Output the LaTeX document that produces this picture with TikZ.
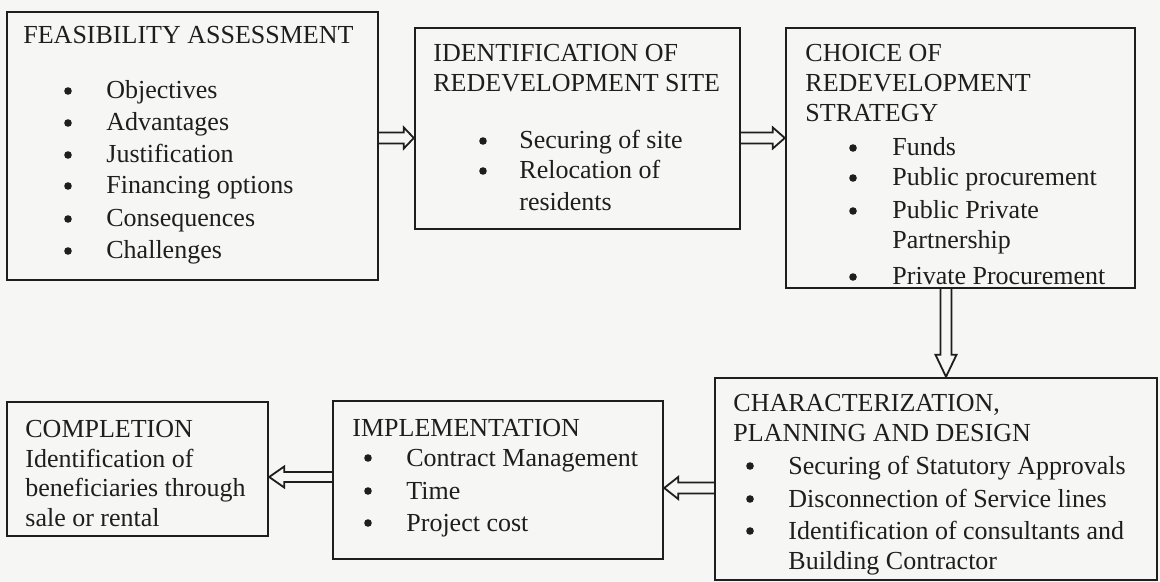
\documentclass[tikz,border=0pt]{standalone}
\usepackage{fontspec}
\setmainfont{Liberation Serif}
\usetikzlibrary{fit,calc}
\definecolor{ink}{HTML}{1E1E1E}
\definecolor{paper}{HTML}{F6F6F4}
\newcommand\tline[4]{\node[txt] (#1) at (#2,#3) {#4};}
\newcommand\bitem[5]{\node[bul] (#1b) at (#2,#4-8) {}; \node[txt] (#1) at (#3,#4) {#5};}
\tikzset{
  txt/.style={anchor=base west, inner sep=0pt, text=ink, font=\fontsize{13}{16}\selectfont},
  bul/.style={circle, fill=ink, inner sep=0pt, minimum size=3.8pt},
  box/.style={draw=ink, line width=1.2pt, inner sep=0pt},
  arr/.style={draw=ink, line width=0.9pt, line join=miter, fill=paper}
}
\begin{document}
\begin{tikzpicture}[x=0.5pt,y=-0.5pt]
\fill[paper] (0,0) rectangle (1160,582);
\useasboundingbox (0,0) rectangle (1160,582);
% Box 1
\tline{t11}{23}{44}{FEASIBILITY ASSESSMENT}
\bitem{t12}{68}{106}{99}{Objectives}
\bitem{t13}{68}{106}{131}{Advantages}
\bitem{t14}{68}{106}{163}{Justification}
\bitem{t15}{68}{106}{194}{Financing options}
\bitem{t16}{68}{106}{227}{Consequences}
\bitem{t17}{68}{106}{259}{Challenges}
% Box 2
\tline{t21}{433}{62}{IDENTIFICATION OF}
\tline{t22}{433}{92}{REDEVELOPMENT SITE}
\bitem{t23}{483}{519}{149}{Securing of site}
\bitem{t24}{483}{519}{179}{Relocation of}
\tline{t25}{519}{211}{residents}
% Box 3
\tline{t31}{805}{62}{CHOICE OF}
\tline{t32}{805}{92}{REDEVELOPMENT}
\tline{t33}{805}{122}{STRATEGY}
\bitem{t34}{853}{892}{156}{Funds}
\bitem{t35}{853}{892}{186}{Public procurement}
\bitem{t36}{853}{892}{219}{Public Private}
\tline{t37}{892}{249}{Partnership}
\bitem{t38}{853}{892}{285}{Private Procurement}
% Box 4
\tline{t41}{733}{411}{CHARACTERIZATION,}
\tline{t42}{733}{441}{PLANNING AND DESIGN}
\bitem{t43}{750}{788}{474}{Securing of Statutory Approvals}
\bitem{t44}{750}{788}{507}{Disconnection of Service lines}
\bitem{t45}{750}{788}{539}{Identification of consultants and}
\tline{t46}{788}{569}{Building Contractor}
% Box 5
\tline{t51}{352}{436}{IMPLEMENTATION}
\bitem{t52}{368}{406}{466}{Contract Management}
\bitem{t53}{368}{406}{499}{Time}
\bitem{t54}{368}{406}{531}{Project cost}
% Box 6
\tline{t61}{25}{437}{COMPLETION}
\tline{t62}{25}{467}{Identification of}
\tline{t63}{25}{496}{beneficiaries through}
\tline{t64}{25}{526}{sale or rental}
% boxes
\node[box, fit={(7,12) (378,280)}] (b1) {};
\node[box, fit={(415,28) (740,229)}] (b2) {};
\node[box, fit={(786,28) (1135,288)}] (b3) {};
\node[box, fit={(715,378) (1157,580)}] (b4) {};
\node[box, fit={(333,401) (663,559)}] (b5) {};
\node[box, fit={(7,402) (268,536)}] (b6) {};
% arrows
\coordinate (r1) at (0,138);
\coordinate (c3) at (946,0);
\coordinate (r4) at (0,488);
\coordinate (r5) at (0,477);
\draw[arr] let \p1=(b1.east |- r1), \p2=(b2.west |- r1) in
  (\x1,\y1+2.75pt) -- (\x2-5pt,\y1+2.75pt) -- (\x2-5pt,\y1+5.25pt) -- (\x2,\y1)
  -- (\x2-5pt,\y1-5.25pt) -- (\x2-5pt,\y1-2.75pt) -- (\x1,\y1-2.75pt);
\draw[arr] let \p1=(b2.east |- r1), \p2=(b3.west |- r1) in
  (\x1,\y1+2.75pt) -- (\x2-6pt,\y1+2.75pt) -- (\x2-6pt,\y1+5.25pt) -- (\x2,\y1)
  -- (\x2-6pt,\y1-5.25pt) -- (\x2-6pt,\y1-2.75pt) -- (\x1,\y1-2.75pt);
\draw[arr] let \p1=(b3.south -| c3), \p2=(b4.north -| c3) in
  (\x1-2.75pt,\y1) -- (\x1-2.75pt,\y2+11pt) -- (\x1-5.25pt,\y2+11pt) -- (\x1,\y2)
  -- (\x1+5.25pt,\y2+11pt) -- (\x1+2.75pt,\y2+11pt) -- (\x1+2.75pt,\y1);
\draw[arr] let \p1=(b4.west |- r4), \p2=(b5.east |- r4) in
  (\x1,\y1+2.75pt) -- (\x2+7pt,\y1+2.75pt) -- (\x2+7pt,\y1+5.5pt) -- (\x2,\y1)
  -- (\x2+7pt,\y1-5.5pt) -- (\x2+7pt,\y1-2.75pt) -- (\x1,\y1-2.75pt);
\draw[arr] let \p1=(b5.west |- r5), \p2=(b6.east |- r5) in
  (\x1,\y1+2.5pt) -- (\x2+7.5pt,\y1+2.5pt) -- (\x2+7.5pt,\y1+5.25pt) -- (\x2,\y1)
  -- (\x2+7.5pt,\y1-5.25pt) -- (\x2+7.5pt,\y1-2.5pt) -- (\x1,\y1-2.5pt);
\end{tikzpicture}
\end{document}
